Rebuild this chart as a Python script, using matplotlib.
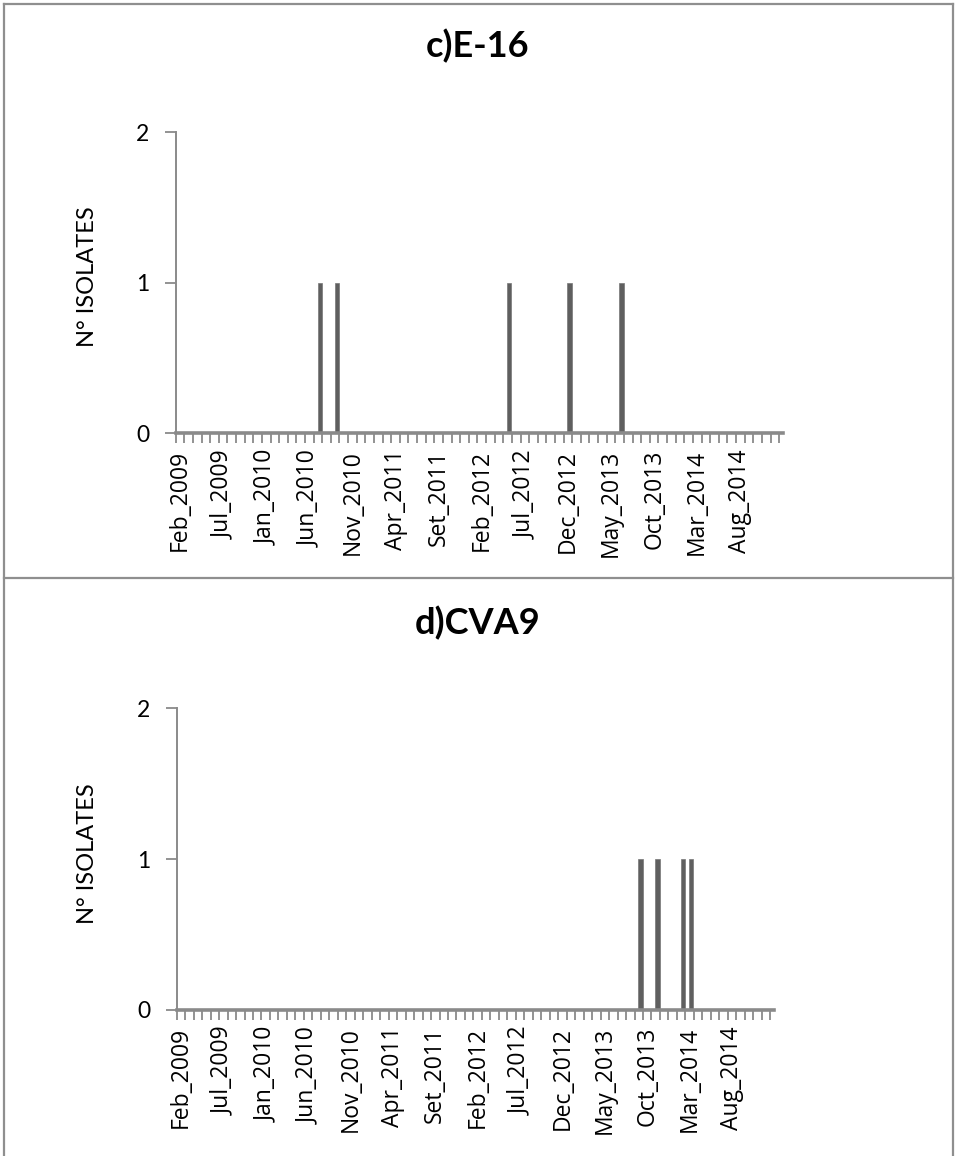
import matplotlib
matplotlib.use("Agg")
import matplotlib.pyplot as plt
from matplotlib.lines import Line2D
from matplotlib.ticker import FixedLocator, NullFormatter

# Monthly sampling periods (one month of late 2009 has no sample)
months = [
    "Feb_2009", "Mar_2009", "Apr_2009", "May_2009", "Jun_2009", "Jul_2009",
    "Aug_2009", "Set_2009", "Oct_2009", "Nov_2009",
    "Jan_2010", "Feb_2010", "Mar_2010", "Apr_2010", "May_2010", "Jun_2010",
    "Jul_2010", "Aug_2010", "Set_2010", "Oct_2010", "Nov_2010", "Dec_2010",
    "Jan_2011", "Feb_2011", "Mar_2011", "Apr_2011", "May_2011", "Jun_2011",
    "Jul_2011", "Aug_2011", "Set_2011", "Oct_2011", "Nov_2011", "Dec_2011",
    "Jan_2012", "Feb_2012", "Mar_2012", "Apr_2012", "May_2012", "Jun_2012",
    "Jul_2012", "Aug_2012", "Set_2012", "Oct_2012", "Nov_2012", "Dec_2012",
    "Jan_2013", "Feb_2013", "Mar_2013", "Apr_2013", "May_2013", "Jun_2013",
    "Jul_2013", "Aug_2013", "Set_2013", "Oct_2013", "Nov_2013", "Dec_2013",
    "Jan_2014", "Feb_2014", "Mar_2014", "Apr_2014", "May_2014", "Jun_2014",
    "Jul_2014", "Aug_2014", "Set_2014", "Oct_2014", "Nov_2014", "Dec_2014",
]
label_step = 5

# Isolates per month
e16_months = ["Jul_2010", "Set_2010", "May_2012", "Dec_2012", "Jun_2013"]
e16_counts = [1, 1, 1, 1, 1]

cva9_months = ["Set_2013", "Nov_2013", "Feb_2014", "Mar_2014"]
cva9_counts = [1, 1, 1, 1]

y_ticks = [0, 1, 2]

W, H = 956, 1156
fig = plt.figure(figsize=(W / 100, H / 100), dpi=100)

AXIS_GRAY = "#8a8a8a"
BAR_GRAY = "#5f5f5f"
BORDER_GRAY = "#8f8f8f"
CALIBRI_LIKE = ["Lato", "DejaVu Sans"]
LABEL_FONT = ["Open Sans", "DejaVu Sans"]


def px_axes(left, top, right, bottom):
    return fig.add_axes([left / W, 1 - bottom / H, (right - left) / W, (bottom - top) / H])


def fig_line(x0, y0, x1, y1):
    fig.add_artist(Line2D([x0 / W, x1 / W], [1 - y0 / H, 1 - y1 / H],
                          transform=fig.transFigure, color=BORDER_GRAY, lw=1.6))


def panel(ax, title, title_xy, ylabel_xy, sel_months, sel_counts):
    n = len(months)
    values = [0] * n
    for m, c in zip(sel_months, sel_counts):
        values[months.index(m)] = c
    pos = list(range(n))
    ax.bar([p + 0.2 for p in pos], values, width=0.5, color=BAR_GRAY,
           edgecolor="#777777", linewidth=0.5, zorder=1)

    ax.set_xlim(-0.5, n - 0.5 + 0.45)
    ax.set_ylim(0, 2)

    for s in ("top", "right"):
        ax.spines[s].set_visible(False)
    ax.spines["left"].set_color(AXIS_GRAY)
    ax.spines["left"].set_linewidth(1.4)
    ax.spines["bottom"].set_color(AXIS_GRAY)
    ax.spines["bottom"].set_linewidth(2.6)

    ax.set_yticks(y_ticks)
    ax.set_yticklabels([str(v) for v in y_ticks], fontsize=16.5, family=CALIBRI_LIKE)
    ax.tick_params(axis="y", length=8, width=1.3, color=AXIS_GRAY, pad=11)

    shown = pos[::label_step]
    ax.set_xticks(shown)
    ax.set_xticklabels([months[i] for i in shown], rotation=90, fontsize=16.5,
                       family=LABEL_FONT, va="top", ha="center")
    ax.tick_params(axis="x", which="major", length=0, pad=12)
    ax.xaxis.set_minor_locator(FixedLocator([p - 0.5 for p in range(n + 1)]))
    ax.xaxis.set_minor_formatter(NullFormatter())
    ax.tick_params(axis="x", which="minor", length=7, width=1.3,
                   color=AXIS_GRAY, direction="out")

    fig.text(title_xy[0] / W, 1 - title_xy[1] / H, title, ha="center", va="center",
             fontsize=26, fontweight="bold", family=CALIBRI_LIKE)
    fig.text(ylabel_xy[0] / W, 1 - ylabel_xy[1] / H, "N° ISOLATES", ha="center",
             va="center", rotation=90, fontsize=17, family=CALIBRI_LIKE)


ax_c = px_axes(175.7, 132.3, 783.0, 433.3)
panel(ax_c, "c)E-16", (478, 46), (87, 277), e16_months, e16_counts)

ax_d = px_axes(176.7, 708.3, 774.0, 1010.0)
panel(ax_d, "d)CVA9", (478, 623), (87, 854), cva9_months, cva9_counts)

# Frame around the two panels
fig_line(3.5, 3.5, 952.5, 3.5)
fig_line(3.5, 3.5, 3.5, H)
fig_line(952.5, 3.5, 952.5, H)
fig_line(3.5, 578, 952.5, 578)

fig.savefig("out.png", dpi=100, facecolor="white")
